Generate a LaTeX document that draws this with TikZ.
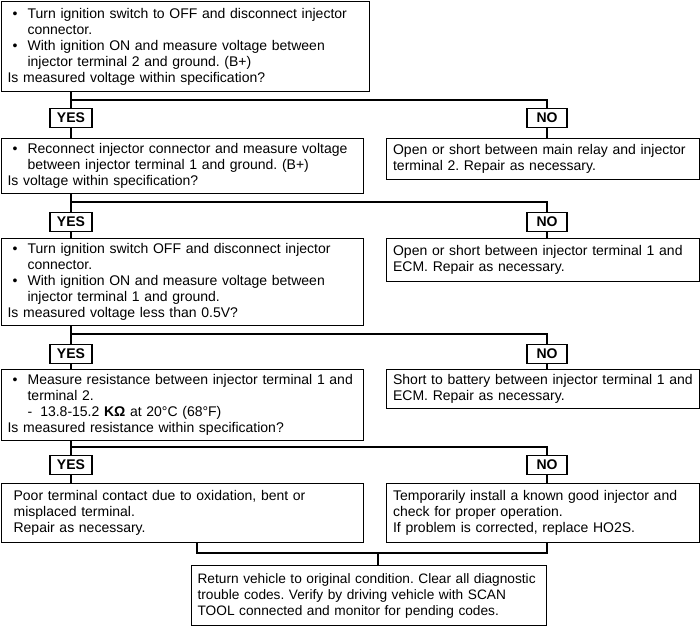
\documentclass[tikz,border=0pt]{standalone}
\usepackage{fontspec}
\setmainfont{Liberation Sans}
\usepackage{tikz}
\frenchspacing
\hyphenpenalty=10000
\exhyphenpenalty=10000
\tikzset{
  fBox/.style={draw,line width=1.2pt,anchor=north west,align=left,
        inner ysep=0pt,font=\fontsize{14}{16}\selectfont},
  fAsk/.style={fBox,inner xsep=6pt},
  fFix/.style={fBox,inner xsep=6.5pt},
  fTag/.style={draw,line width=1.2pt,inner xsep=7pt,inner ysep=0pt,
        minimum width=40pt,minimum height=19pt,font=\fontsize{14}{16}\selectfont\bfseries},
  fLink/.style={line width=1.7pt},
}
\newcommand{\fbul}{\makebox[20pt][l]{\hspace{5pt}\textbullet}}
\newcommand{\find}{\hspace*{20pt}}

\begin{document}
\begin{tikzpicture}[x=1pt,y=-1pt]
\useasboundingbox (0,0) rectangle (700,626);
% questions down the left side
\node[fAsk,text width=356pt,minimum height=90pt] (q1) at (1,1)
  {\fbul Turn ignition switch to OFF and disconnect injector\\
   \find connector.\\
   \fbul With ignition ON and measure voltage between\\
   \find injector terminal 2 and ground. (B+)\\
   Is measured voltage within specification?};
\node[fAsk,text width=350pt,minimum height=55pt] (q2) at (1,138)
  {\fbul Reconnect injector connector and measure voltage\\
   \find between injector terminal 1 and ground. (B+)\\
   Is voltage within specification?};
\node[fAsk,text width=350pt,minimum height=87pt] (q3) at (1,238)
  {\fbul Turn ignition switch OFF and disconnect injector\\
   \find connector.\\
   \fbul With ignition ON and measure voltage between\\
   \find injector terminal 1 and ground.\\
   Is measured voltage less than 0.5V?};
\node[fAsk,text width=350pt,minimum height=71pt] (q4) at (1,369)
  {\fbul Measure resistance between injector terminal 1 and\\
   \find terminal 2.\\
   \find -\hspace{8pt}13.8-15.2 \textbf{KΩ} at 20°C (68°F)\\
   Is measured resistance within specification?};
% faults on the right
\node[fFix,text width=300pt,minimum height=41pt] (f1) at (386,138)
  {Open or short between main relay and injector\\
   terminal 2. Repair as necessary.};
\node[fFix,text width=300pt,minimum height=43pt] (f2) at (386,238)
  {Open or short between injector terminal 1 and\\
   ECM. Repair as necessary.};
\node[fFix,text width=300pt,minimum height=39pt] (f3) at (386,369)
  {Short to battery between injector terminal 1 and\\
   ECM. Repair as necessary.};
% last answers
\node[fBox,inner xsep=12pt,text width=338pt,minimum height=59pt] (r1) at (1,483)
  {Poor terminal contact due to oxidation, bent or\\
   misplaced terminal.\\
   Repair as necessary.};
\node[fFix,text width=300pt,minimum height=59pt] (r2) at (386,483)
  {Temporarily install a known good injector and\\
   check for proper operation.\\
   If problem is corrected, replace HO2S.};
\node[fBox,inner xsep=6pt,text width=343pt,minimum height=60pt,
  font=\fontsize{13.7}{16}\selectfont] (done) at (191,565)
  {Return vehicle to original condition. Clear all diagnostic\\
   trouble codes. Verify by driving vehicle with SCAN\\
   TOOL connected and monitor for pending codes.};
% yes / no tags
\node[fTag] (y1) at (71,118) {YES};
\node[fTag] (n1) at (547,118) {NO};
\node[fTag] (y2) at (71,222) {YES};
\node[fTag] (n2) at (547,222) {NO};
\node[fTag] (y3) at (71,354) {YES};
\node[fTag] (n3) at (547,354) {NO};
\node[fTag] (y4) at (71,465) {YES};
\node[fTag] (n4) at (547,465) {NO};
\coordinate (s1) at (71,100);
\coordinate (s2) at (71,202);
\coordinate (s3) at (71,334);
\coordinate (s4) at (71,447);
\coordinate (jl) at (197,553);
\coordinate (jr) at (547,553);
\coordinate (jm) at (378,553);
% branches
\draw[fLink] (q1.south -| y1) -- (y1.north);
\draw[fLink] (s1) -| (n1.north);
\draw[fLink] (y1.south) -- (y1.south |- q2.north);
\draw[fLink] (n1.south) -- (n1.south |- f1.north);
\draw[fLink] (q2.south -| y2) -- (y2.north);
\draw[fLink] (s2) -| (n2.north);
\draw[fLink] (y2.south) -- (y2.south |- q3.north);
\draw[fLink] (n2.south) -- (n2.south |- f2.north);
\draw[fLink] (q3.south -| y3) -- (y3.north);
\draw[fLink] (s3) -| (n3.north);
\draw[fLink] (y3.south) -- (y3.south |- q4.north);
\draw[fLink] (n3.south) -- (n3.south |- f3.north);
\draw[fLink] (q4.south -| y4) -- (y4.north);
\draw[fLink] (s4) -| (n4.north);
\draw[fLink] (y4.south) -- (y4.south |- r1.north);
\draw[fLink] (n4.south) -- (n4.south |- r2.north);
% join to the end box
\draw[fLink] (r1.south -| jl) -- (jl) -- (jr) -- (r2.south -| jr);
\draw[fLink] (jm) -- (jm |- done.north);
\end{tikzpicture}
\end{document}
